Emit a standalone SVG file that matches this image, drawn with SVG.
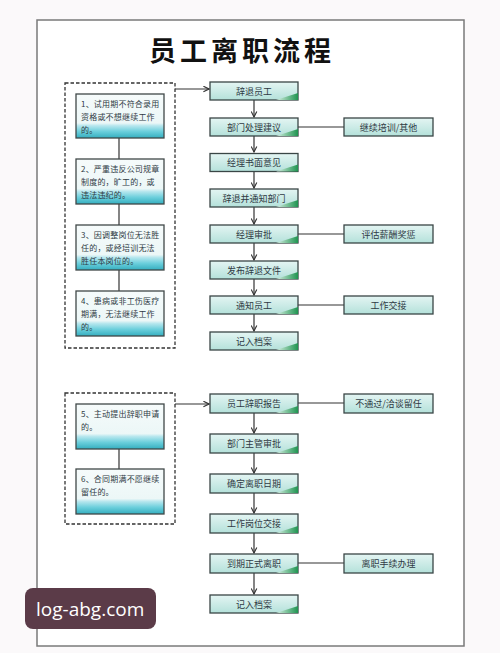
<svg xmlns="http://www.w3.org/2000/svg" width="500" height="653" viewBox="0 0 500 653">
<style>
.bg{fill:#fbf9fa}
.frame{fill:#ffffff;stroke:#7a7a7a;stroke-width:1.5}
.title{font-family:"Noto Sans CJK SC","Noto Sans",sans-serif;font-size:27px;font-weight:bold;fill:#111;letter-spacing:4px}
.dash{fill:none;stroke:#333;stroke-width:1.3;stroke-dasharray:3.5,2}
.box{fill:url(#gBox);stroke:#3a4646;stroke-width:1.3}
.wedge{fill:url(#gWedge)}
.lbox{fill:url(#gLeft);stroke:#404848;stroke-width:1.3}
.t{font-family:"Noto Sans CJK SC","Noto Sans",sans-serif;font-size:9px;fill:#2f3a44;text-anchor:middle}
.lt{font-family:"Noto Sans CJK SC","Noto Sans",sans-serif;font-size:8px;fill:#2f3a44;letter-spacing:0.2px}
.ln{fill:none;stroke:#333;stroke-width:1.2}
.wm{fill:#5b3b48}
.wmt{font-family:"Open Sans","Noto Sans",sans-serif;font-size:19px;fill:#ffffff}
</style>
<defs>
<linearGradient id="gBox" x1="0" y1="0" x2="0" y2="1">
<stop offset="0" stop-color="#e4f5f3"/>
<stop offset="1" stop-color="#b4e1da"/>
</linearGradient>
<linearGradient id="gWedge" x1="0" y1="0" x2="1" y2="0">
<stop offset="0" stop-color="#d8f0e4"/>
<stop offset="1" stop-color="#1f9450"/>
</linearGradient>
<linearGradient id="gLeft" x1="0" y1="0" x2="0" y2="1">
<stop offset="0" stop-color="#f6fbfb"/>
<stop offset="0.66" stop-color="#ecf7f7"/>
<stop offset="0.72" stop-color="#b8e7ee"/>
<stop offset="0.85" stop-color="#6ccfdc"/>
<stop offset="1" stop-color="#34aebf"/>
</linearGradient>
<marker id="arr" viewBox="0 0 10 10" refX="9" refY="5" markerWidth="7" markerHeight="7" orient="auto" markerUnits="userSpaceOnUse">
<path d="M1,1 L9,5 L1,9" fill="none" stroke="#333" stroke-width="1.6"/>
</marker>
</defs>
<rect class="bg" x="0" y="0" width="500" height="653"/>
<rect class="frame" x="37" y="20" width="427" height="626"/>
<text class="title" x="242" y="61" text-anchor="middle">员工离职流程</text>

<g id="connectors">
<line class="ln" x1="175" y1="89" x2="209" y2="89" marker-end="url(#arr)"/>
<line class="ln" x1="119" y1="138" x2="119" y2="159"/>
<line class="ln" x1="119" y1="204" x2="119" y2="225"/>
<line class="ln" x1="119" y1="270" x2="119" y2="291"/>
<line class="ln" x1="254" y1="100" x2="254" y2="117" marker-end="url(#arr)"/>
<line class="ln" x1="254" y1="136" x2="254" y2="152" marker-end="url(#arr)"/>
<line class="ln" x1="254" y1="172" x2="254" y2="188" marker-end="url(#arr)"/>
<line class="ln" x1="254" y1="207" x2="254" y2="224" marker-end="url(#arr)"/>
<line class="ln" x1="254" y1="243" x2="254" y2="260" marker-end="url(#arr)"/>
<line class="ln" x1="254" y1="279" x2="254" y2="295" marker-end="url(#arr)"/>
<line class="ln" x1="254" y1="314" x2="254" y2="331" marker-end="url(#arr)"/>
<line class="ln" x1="298" y1="127" x2="344" y2="127"/>
<line class="ln" x1="298" y1="234" x2="344" y2="234"/>
<line class="ln" x1="298" y1="305" x2="344" y2="305"/>
<line class="ln" x1="175" y1="404" x2="209" y2="404" marker-end="url(#arr)"/>
<line class="ln" x1="119" y1="449" x2="119" y2="469"/>
<line class="ln" x1="254" y1="413" x2="254" y2="433" marker-end="url(#arr)"/>
<line class="ln" x1="254" y1="453" x2="254" y2="473" marker-end="url(#arr)"/>
<line class="ln" x1="254" y1="493" x2="254" y2="513" marker-end="url(#arr)"/>
<line class="ln" x1="254" y1="533" x2="254" y2="553" marker-end="url(#arr)"/>
<line class="ln" x1="254" y1="573" x2="254" y2="594" marker-end="url(#arr)"/>
<line class="ln" x1="298" y1="403" x2="344" y2="403"/>
<line class="ln" x1="298" y1="563" x2="344" y2="563"/>
</g>

<g id="group1">
<rect class="dash" x="65" y="83" width="110" height="265"/>
</g>
<g id="c1">
<rect class="lbox" x="76" y="94" width="88" height="44"/>
<text class="lt" x="81" y="107">1、试用期不符合录用</text>
<text class="lt" x="81" y="120">资格或不想继续工作</text>
<text class="lt" x="81" y="133">的。</text>
</g>
<g id="c2">
<rect class="lbox" x="76" y="159" width="88" height="45"/>
<text class="lt" x="81" y="172">2、严重违反公司规章</text>
<text class="lt" x="81" y="185">制度的，旷工的，或</text>
<text class="lt" x="81" y="198">违法违纪的。</text>
</g>
<g id="c3">
<rect class="lbox" x="76" y="225" width="88" height="45"/>
<text class="lt" x="81" y="238">3、因调整岗位无法胜</text>
<text class="lt" x="81" y="251">任的，或经培训无法</text>
<text class="lt" x="81" y="264">胜任本岗位的。</text>
</g>
<g id="c4">
<rect class="lbox" x="76" y="291" width="88" height="45"/>
<text class="lt" x="81" y="304">4、患病或非工伤医疗</text>
<text class="lt" x="81" y="317">期满，无法继续工作</text>
<text class="lt" x="81" y="330">的。</text>
</g>

<g id="n1"><rect class="box" x="210" y="82" width="88" height="18"/><path class="wedge" d="M276,100 L298,93 L298,100 Z"/><text class="t" x="254" y="94.5">辞退员工</text></g>
<g id="n2"><rect class="box" x="210" y="118" width="88" height="18"/><path class="wedge" d="M276,136 L298,129 L298,136 Z"/><text class="t" x="254" y="130.5">部门处理建议</text></g>
<g id="n3"><rect class="box" x="210" y="153.5" width="88" height="18"/><path class="wedge" d="M276,171.5 L298,164.5 L298,171.5 Z"/><text class="t" x="254" y="166">经理书面意见</text></g>
<g id="n4"><rect class="box" x="210" y="189" width="88" height="18"/><path class="wedge" d="M276,207 L298,200 L298,207 Z"/><text class="t" x="254" y="201.5">辞退并通知部门</text></g>
<g id="n5"><rect class="box" x="210" y="225" width="88" height="18"/><path class="wedge" d="M276,243 L298,236 L298,243 Z"/><text class="t" x="254" y="237.5">经理审批</text></g>
<g id="n6"><rect class="box" x="210" y="261" width="88" height="18"/><path class="wedge" d="M276,279 L298,272 L298,279 Z"/><text class="t" x="254" y="273.5">发布辞退文件</text></g>
<g id="n7"><rect class="box" x="210" y="296" width="88" height="18"/><path class="wedge" d="M276,314 L298,307 L298,314 Z"/><text class="t" x="254" y="308.5">通知员工</text></g>
<g id="n8"><rect class="box" x="210" y="332" width="88" height="18"/><path class="wedge" d="M276,350 L298,343 L298,350 Z"/><text class="t" x="254" y="344.5">记入档案</text></g>
<g id="r1"><rect class="box" x="344" y="118" width="89" height="18"/><text class="t" x="388.5" y="130.5">继续培训/其他</text></g>
<g id="r2"><rect class="box" x="344" y="225" width="89" height="18"/><text class="t" x="388.5" y="237.5">评估薪酬奖惩</text></g>
<g id="r3"><rect class="box" x="344" y="296" width="89" height="18"/><text class="t" x="388.5" y="308.5">工作交接</text></g>

<g id="group2">
<rect class="dash" x="65" y="393" width="110" height="131"/>
</g>
<g id="c5">
<rect class="lbox" x="76" y="404" width="88" height="45"/>
<text class="lt" x="81" y="417">5、主动提出辞职申请</text>
<text class="lt" x="81" y="430">的。</text>
</g>
<g id="c6">
<rect class="lbox" x="76" y="469" width="88" height="45"/>
<text class="lt" x="81" y="482">6、合同期满不愿继续</text>
<text class="lt" x="81" y="495">留任的。</text>
</g>

<g id="m1"><rect class="box" x="210" y="394" width="88" height="19"/><path class="wedge" d="M276,413 L298,406 L298,413 Z"/><text class="t" x="254" y="407">员工辞职报告</text></g>
<g id="m2"><rect class="box" x="210" y="434" width="88" height="19"/><path class="wedge" d="M276,453 L298,446 L298,453 Z"/><text class="t" x="254" y="447">部门主管审批</text></g>
<g id="m3"><rect class="box" x="210" y="474" width="88" height="19"/><path class="wedge" d="M276,493 L298,486 L298,493 Z"/><text class="t" x="254" y="487">确定离职日期</text></g>
<g id="m4"><rect class="box" x="210" y="514" width="88" height="19"/><path class="wedge" d="M276,533 L298,526 L298,533 Z"/><text class="t" x="254" y="527">工作岗位交接</text></g>
<g id="m5"><rect class="box" x="210" y="554" width="88" height="19"/><path class="wedge" d="M276,573 L298,566 L298,573 Z"/><text class="t" x="254" y="567">到期正式离职</text></g>
<g id="m6"><rect class="box" x="210" y="595" width="88" height="18"/><path class="wedge" d="M276,613 L298,606 L298,613 Z"/><text class="t" x="254" y="607.5">记入档案</text></g>
<g id="s1"><rect class="box" x="344" y="394" width="89" height="19"/><text class="t" x="388.5" y="407">不通过/洽谈留任</text></g>
<g id="s2"><rect class="box" x="344" y="554" width="89" height="19"/><text class="t" x="388.5" y="567">离职手续办理</text></g>

<g id="watermark">
<rect class="wm" x="25" y="588" width="131" height="41" rx="8"/>
<text class="wmt" x="36" y="616">log-abg.com</text>
</g>
</svg>
